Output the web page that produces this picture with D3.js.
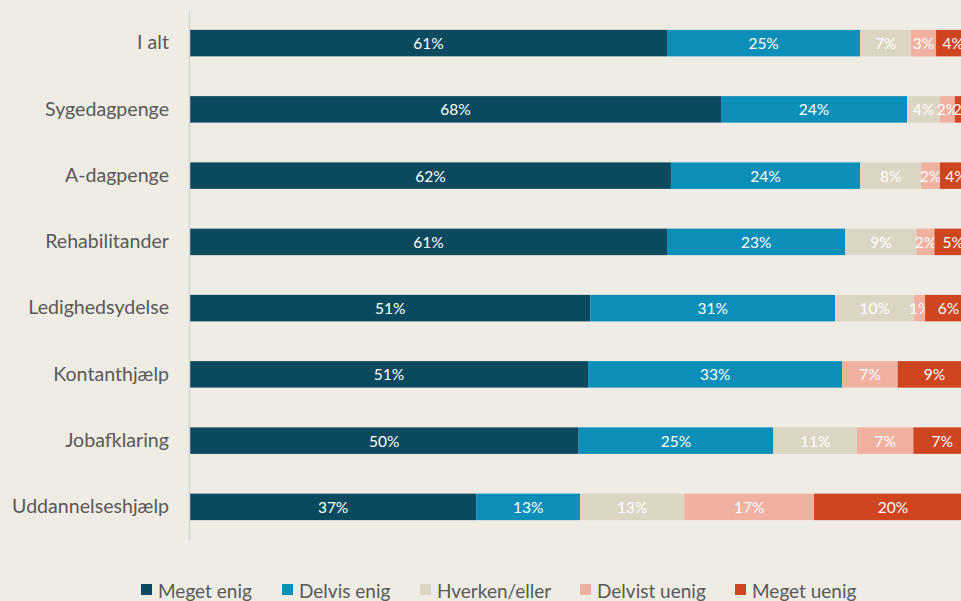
<!DOCTYPE html>
<html><head><meta charset="utf-8">
<script src="https://cdn.jsdelivr.net/npm/d3@7"></script>
<style>html,body{margin:0;padding:0;background:#efece6;overflow:hidden}svg{display:block}</style>
</head><body>
<svg id="c" width="961" height="601"></svg>
<script>
const categories = ["I alt","Sygedagpenge","A-dagpenge","Rehabilitander","Ledighedsydelse","Kontanthjælp","Jobafklaring","Uddannelseshjælp"];
const seriesNames = ["Meget enig","Delvis enig","Hverken/eller","Delvist uenig","Meget uenig"];
const megetEnig   = [61.0, 67.9, 61.5, 61.0, 51.2, 50.9, 49.7, 36.6];
const delvisEnig  = [24.7, 23.8, 24.2, 22.8, 31.3, 32.5, 24.9, 13.3];
const hverken     = [ 6.5,  4.2,  7.8,  9.1, 10.1,  0.0, 10.7, 13.3];
const delvistUenig= [ 3.2,  1.9,  2.4,  2.3,  1.4,  7.1,  7.2, 16.6];
const megetUenig  = [ 4.4,  2.2,  4.1,  4.8,  6.0,  9.4,  7.4, 20.2];
const colors = ["#0b4a5e","#0b8fb9","#ddd5c3","#f0b1a0","#cf4520"];

const series = [megetEnig, delvisEnig, hverken, delvistUenig, megetUenig];
const rows = categories.map((c,i)=>{const r={cat:c}; seriesNames.forEach((s,k)=>r[s]=series[k][i]); return r;});
const stack = d3.stack().keys(seriesNames)(rows);

const svg = d3.select("#c");
const font = "Lato, 'Open Sans', sans-serif";
const x = d3.scaleLinear().domain([0,100]).range([190, 972]);
const y = d3.scaleBand().domain(categories).range([10, 540]).paddingInner(0.6).paddingOuter(0.3);

const g = svg.append("g");
stack.forEach((layer,k)=>{
  const lg = g.append("g");
  lg.selectAll("rect").data(layer).join("rect")
    .attr("x", d=>x(d[0])).attr("width", d=>Math.max(0,x(d[1])-x(d[0])))
    .attr("y", d=>y(d.data.cat)).attr("height", y.bandwidth())
    .attr("fill", colors[k]);
  lg.selectAll("text").data(layer.filter(d=>d[1]-d[0]>0)).join("text")
    .attr("x", d=>(x(d[0])+x(d[1]))/2).attr("y", d=>y(d.data.cat)+y.bandwidth()/2)
    .attr("text-anchor","middle").attr("dominant-baseline","central")
    .attr("font-family",font).attr("font-size",15.5).attr("fill","#ffffff")
    .text(d=>Math.round(d[1]-d[0])+"%");
});

// axis
const ax = svg.append("g").attr("transform","translate(189,0)")
  .call(d3.axisLeft(y).tickSize(0).tickPadding(20));
ax.select(".domain").attr("stroke","#d4d4d4").attr("stroke-width",1.5);
ax.selectAll("text").attr("font-family",font).attr("font-size",19.6).attr("fill","#595959");

// legend
const legX = [141, 282, 420, 580, 735];
const leg = svg.append("g");
seriesNames.forEach((s,k)=>{
  leg.append("rect").attr("x",legX[k]).attr("y",584).attr("width",11).attr("height",11).attr("fill",colors[k]);
  leg.append("text").attr("x",legX[k]+17).attr("y",590).attr("dominant-baseline","central")
    .attr("font-family",font).attr("font-size",19).attr("fill","#595959").text(s);
});
</script>
</body></html>
